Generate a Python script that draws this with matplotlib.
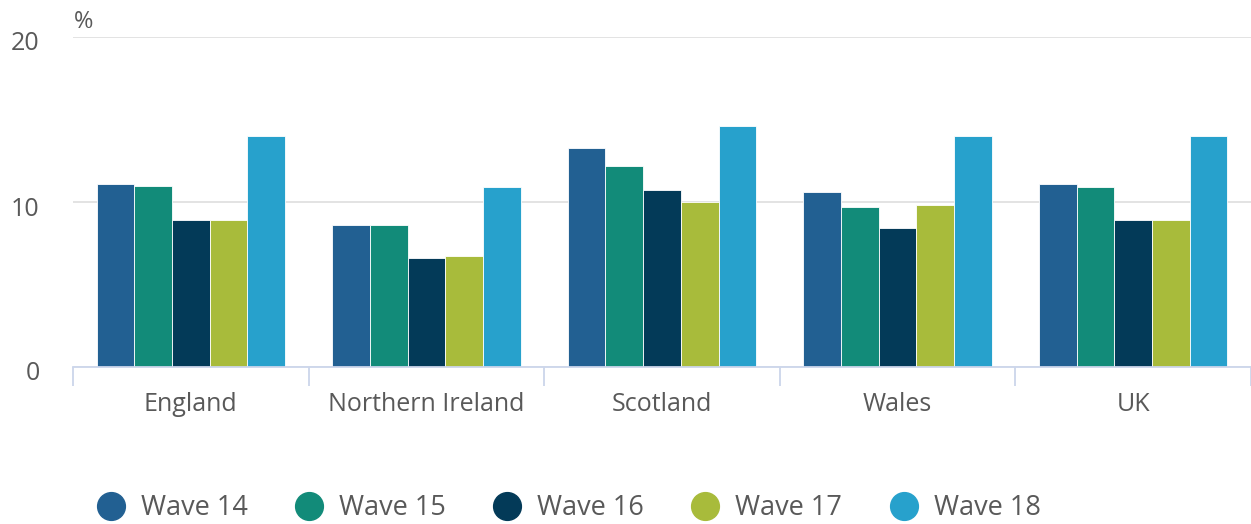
import matplotlib
matplotlib.use("Agg")
import matplotlib.pyplot as plt
import matplotlib.transforms as mtransforms
from matplotlib.lines import Line2D
import numpy as np

plt.rcParams['font.family'] = ['Open Sans', 'DejaVu Sans']

categories = ["England", "Northern Ireland", "Scotland", "Wales", "UK"]
series_names = ["Wave 14", "Wave 15", "Wave 16", "Wave 17", "Wave 18"]
wave14 = [11.1, 8.6, 13.3, 10.6, 11.1]
wave15 = [11.0, 8.6, 12.2, 9.7, 10.9]
wave16 = [8.9, 6.6, 10.7, 8.4, 8.9]
wave17 = [8.9, 6.7, 10.0, 9.8, 8.9]
wave18 = [14.0, 10.9, 14.6, 14.0, 14.0]
series_values = [wave14, wave15, wave16, wave17, wave18]
colors = ["#226092", "#128b79", "#033a58", "#a8bb3b", "#27a1cc"]
yticks = [0, 10, 20]

W, H = 1251, 524
fig = plt.figure(figsize=(W / 100, H / 100), dpi=100)
ax = fig.add_axes([73 / W, (H - 367) / H, (W - 73) / W, (367 - 37) / H])

x = np.arange(len(categories))
bw = 0.16
for i, (vals, c) in enumerate(zip(series_values, colors)):
    ax.bar(x + (i - 2) * bw, vals, width=bw, color=c, edgecolor="white",
           linewidth=0.6, zorder=3)

ax.set_xlim(-0.5, len(categories) - 0.5)
ax.set_ylim(0, 20)
ax.set_yticks(yticks)
ax.grid(axis="y", color="#e3e3e3", linewidth=1.4, zorder=0)
for s in ["top", "right", "left"]:
    ax.spines[s].set_visible(False)
ax.spines["bottom"].set_color("#ccd6eb")
ax.spines["bottom"].set_linewidth(1.3)
ax.spines["bottom"].set_zorder(4)

ax.set_xticks(x)
ax.set_xticklabels(categories, fontsize=18, color="#595959")
ax.tick_params(axis="x", which="major", length=0, pad=18)
ax.set_xticks(np.arange(-0.5, len(categories)), minor=True)
ax.tick_params(axis="x", which="minor", length=14, width=1.3, color="#ccd6eb")
ax.tick_params(axis="y", length=0, pad=24, labelsize=18, labelcolor="#595959")
offset = mtransforms.ScaledTranslation(0, -4 / 100, fig.dpi_scale_trans)
for lab in ax.get_yticklabels():
    lab.set_transform(lab.get_transform() + offset)

fig.text(74 / W, 1 - 22 / H, "%", fontsize=17, color="#595959", ha="left", va="center")

handles = [Line2D([0], [0], marker="o", linestyle="none", markersize=20,
                  markerfacecolor=c, markeredgecolor=c) for c in colors]
fig.legend(handles, series_names, loc="center", bbox_to_anchor=(569 / W, 1 - 508 / H),
           ncol=5, frameon=False, fontsize=19.5, labelcolor="#595959",
           handlelength=1.0, handletextpad=0.61, columnspacing=1.76)

fig.savefig("out.png", dpi=100)
